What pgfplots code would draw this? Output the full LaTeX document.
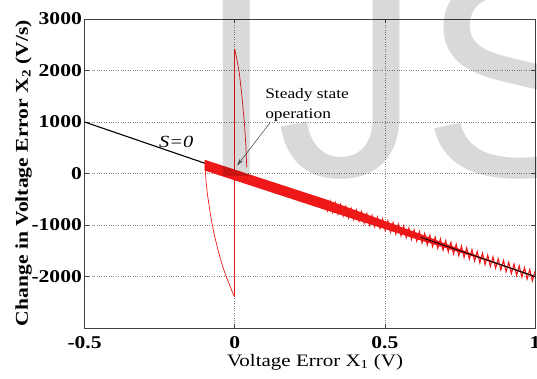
\documentclass[border=0pt]{standalone}
\usepackage{pgfplots}
\pgfplotsset{compat=1.18}
\usepackage{fontspec}
\setmainfont{Liberation Serif}[FakeStretch=1.2]
\newfontfamily\wmfont{Liberation Sans}
\usetikzlibrary{arrows.meta}

\definecolor{trajred}{RGB}{238,24,24}
\definecolor{gridgray}{RGB}{135,135,135}

\begin{document}
\begin{tikzpicture}
\begin{axis}[
  width=450.4pt, height=309pt, scale only axis,
  xmin=-0.5, xmax=1, ymin=-3000, ymax=3000,
  xtick={-0.5,0,0.5,1}, xticklabels={-0.5,0,0.5,1},
  ytick={-2000,-1000,0,1000,2000,3000},
  yticklabels={-2000,-1000,0,1000,2000,3000},
  tick align=inside, major tick length=4pt,
  tick style={black!75, line width=0.6pt},
  axis line style={black!75, line width=0.9pt},
  grid=major,
  major grid style={gridgray, line width=0.6pt, dash pattern=on 0.8pt off 1.6pt},
  ticklabel style={font=\fontsize{18}{20}\selectfont\bfseries},
  xticklabel style={inner sep=0pt, yshift=-8pt},
  yticklabel style={inner sep=0pt, xshift=-2.5pt},
]
% sliding line S = 0
\addplot[black, line width=1.1pt] coordinates {(-0.5,1000) (1,-2000)};

% reaching phase
\addplot[trajred, line width=0.7pt] coordinates {(0,-2400) (0,2420)};
\addplot[trajred, line width=0.7pt] coordinates {
  (0,2420) (0.006,2250) (0.015,1965) (0.024,1500) (0.032,995)
  (0.037,550) (0.040,120)};
\addplot[trajred, line width=0.7pt] coordinates {
  (0,-2400) (-0.008,-2300) (-0.018,-2150) (-0.030,-1980) (-0.043,-1750)
  (-0.056,-1480) (-0.067,-1220) (-0.076,-960) (-0.084,-680)
  (-0.091,-400) (-0.096,-130) (-0.099,150)};

% sliding phase: chattering band along S = 0
\addplot[fill=trajred, draw=none] coordinates {
  (-0.1,266) (0.3,-495) (0.6,-1135) (0.9,-1800)
  (0.6,-1265) (0.3,-705) (-0.1,58)} -- cycle;
\addplot[trajred, line width=1.1pt] coordinates {
  (0.3000,-500) (0.30875,-717.5) (0.3175,-535) (0.32625,-752.5)
  (0.3350,-570) (0.34375,-787.5) (0.3525,-605) (0.36125,-822.5)
  (0.3700,-640) (0.37875,-857.5) (0.3875,-675) (0.39625,-892.5)
  (0.4050,-710) (0.41375,-927.5) (0.4225,-745) (0.43125,-962.5)
  (0.4400,-780) (0.44875,-997.5) (0.4575,-815) (0.46625,-1032.5)
  (0.4750,-850) (0.48375,-1067.5) (0.4925,-885) (0.50125,-1102.5)
  (0.5100,-920) (0.51875,-1137.5) (0.5275,-955) (0.53625,-1172.5)
  (0.5450,-990) (0.55375,-1207.5) (0.5625,-1025) (0.57125,-1242.5)
  (0.5800,-1060) (0.58875,-1277.5) (0.5975,-1095) (0.60625,-1312.5)
  (0.6150,-1130) (0.62375,-1347.5) (0.6325,-1165) (0.64125,-1382.5)
  (0.6500,-1200) (0.65875,-1417.5) (0.6675,-1235) (0.67625,-1452.5)
  (0.6850,-1270) (0.69375,-1487.5) (0.7025,-1305) (0.71125,-1522.5)
  (0.7200,-1340) (0.72875,-1557.5) (0.7375,-1375) (0.74625,-1592.5)
  (0.7550,-1410) (0.76375,-1627.5) (0.7725,-1445) (0.78125,-1662.5)
  (0.7900,-1480) (0.79875,-1697.5) (0.8075,-1515) (0.81625,-1732.5)
  (0.8250,-1550) (0.83375,-1767.5) (0.8425,-1585) (0.85125,-1802.5)
  (0.8600,-1620) (0.86875,-1837.5) (0.8775,-1655) (0.88625,-1872.5)
  (0.8950,-1690) (0.90375,-1907.5) (0.9125,-1725) (0.92125,-1942.5)
  (0.9300,-1760) (0.93875,-1977.5) (0.9475,-1795) (0.95625,-2012.5)
  (0.9650,-1830) (0.97375,-2047.5) (0.9825,-1865) (0.99125,-2082.5)
  (1.0000,-1900)};
\addplot[black, line width=0.9pt] coordinates {(0.62,-1240) (1,-2000)};

% annotations
\node[anchor=center, inner sep=0pt, font=\fontsize{17}{20}\selectfont\itshape]
  at (axis cs:-0.195,620) {S=0};
\node[anchor=base west, inner sep=0pt, font=\fontsize{14.5}{18}\selectfont]
  at (axis cs:0.101,1455) {Steady state};
\node[anchor=base west, inner sep=0pt, font=\fontsize{14.5}{18}\selectfont]
  at (axis cs:0.101,1065) {operation};
\draw[black!65, line width=0.6pt, -{Stealth[length=7pt,width=4pt]}]
  (axis cs:0.118,990) -- (axis cs:0.008,155);
\end{axis}

% axis titles
\node[anchor=base, inner sep=0pt, font=\fontsize{17.5}{20}\selectfont]
  at (230.4pt,-38pt) {Voltage Error X\textsubscript{1} (V)};
\node[anchor=base, rotate=90, inner sep=0pt, font=\fontsize{18}{20}\selectfont\bfseries]
  at (-56.6pt,155pt) {Change in Voltage Error X\textsubscript{2} (V/s)};

% journal mark
\node[anchor=base west, inner sep=0pt, text=black, text opacity=0.15,
  font=\wmfont\fontsize{290}{290}\selectfont]
  at (111.4pt,152pt) {IJS};

\pgfresetboundingbox
\useasboundingbox (-84.6pt,-50pt) rectangle (452.4pt,328pt);
\end{tikzpicture}
\end{document}
